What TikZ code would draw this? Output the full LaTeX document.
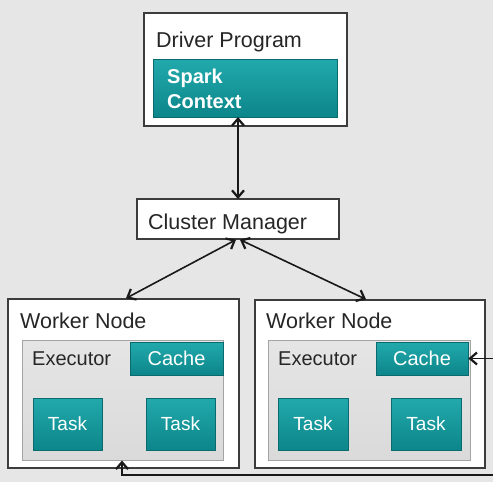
\documentclass[tikz,border=0pt]{standalone}
\usepackage{fontspec}
\setmainfont{Liberation Sans}
\usetikzlibrary{fit,arrows.meta}
\definecolor{bgcol}{HTML}{E6E6E6}
\definecolor{framecol}{HTML}{3C3C3C}
\definecolor{tealtop}{HTML}{22A9AC}
\definecolor{tealbot}{HTML}{0C868A}
\definecolor{execfill}{HTML}{DADADA}
\definecolor{execline}{HTML}{A4A4A4}
\tikzset{
  whitebox/.style={draw=framecol, line width=1.4pt, fill=white, inner sep=0pt},
  execbox/.style={draw=execline, line width=1pt, top color=execfill!70!white, bottom color=execfill, inner sep=0pt},
  tealbox/.style={draw=tealbot!80!black, line width=0.6pt, top color=tealtop, bottom color=tealbot, inner sep=0pt},
  label/.style={anchor=base west, inner sep=0pt, text=black!85, font=\fontsize{21.5}{24}\selectfont},
  smalllabel/.style={anchor=base west, inner sep=0pt, text=black!85, font=\fontsize{20}{22}\selectfont},
  tealtext/.style={inner sep=0pt, text=white, font=\fontsize{20}{22}\selectfont},
  boldtext/.style={anchor=base west, inner sep=0pt, text=white, font=\fontsize{20}{22}\selectfont\bfseries},
  link/.style={draw=black!90, line width=1.6pt,
    {Straight Barb[length=7pt,width=12pt,line width=2.2pt]}-{Straight Barb[length=7pt,width=12pt,line width=2.2pt]}},
  onelink/.style={draw=black!90, line width=1.6pt, -{Straight Barb[length=7pt,width=12pt,line width=2.2pt]}}
}
\begin{document}
\begin{tikzpicture}[x=1pt,y=-1pt]
  \fill[bgcol] (0,0) rectangle (493,482);
  \useasboundingbox (0,0) rectangle (493,482);
  \clip (0,0) rectangle (493,482);

  % driver program
  \node[whitebox, fit={(144,13) (347,126)}] (driver) {};
  \node[label] (drivertxt) at (156,47) {Driver Program};
  \node[tealbox, fit={(153,59) (337,117)}] (spark) {};
  \node[boldtext] (sparktxt1) at (167,83) {Spark};
  \node[boldtext] (sparktxt2) at (167,108) {Context};

  % cluster manager
  \node[whitebox, fit={(137,199) (339,239)}] (cm) {};
  \node[label] (cmtxt) at (148,229) {Cluster Manager};

  % left worker
  \node[whitebox, fit={(8,299) (239,468)}] (lw) {};
  \node[label] (lwtxt) at (20,328) {Worker Node};
  \node[execbox, fit={(22,340) (223,460)}] (lexec) {};
  \node[smalllabel] (lexectxt) at (32,365) {Executor};
  \node[tealbox, fit={(130,342) (223,375)}] (lcache) {};
  \node[tealtext] at (lcache.center) {Cache};
  \node[tealbox, fit={(33,398) (102,450)}] (ltask1) {};
  \node[tealtext, font=\fontsize{19}{21}\selectfont] at (ltask1.center) {Task};
  \node[tealbox, fit={(146,398) (215,450)}] (ltask2) {};
  \node[tealtext, font=\fontsize{19}{21}\selectfont] at (ltask2.center) {Task};

  % right worker
  \node[whitebox, fit={(255,300) (485,468)}] (rw) {};
  \node[label] (rwtxt) at (266,328) {Worker Node};
  \node[execbox, fit={(268,340) (470,460)}] (rexec) {};
  \node[smalllabel] (rexectxt) at (278,365) {Executor};
  \node[tealbox, fit={(376,342) (468,375)}] (rcache) {};
  \node[tealtext] at (rcache.center) {Cache};
  \node[tealbox, fit={(278,398) (348,450)}] (rtask1) {};
  \node[tealtext, font=\fontsize{19}{21}\selectfont] at (rtask1.center) {Task};
  \node[tealbox, fit={(391,398) (461,450)}] (rtask2) {};
  \node[tealtext, font=\fontsize{19}{21}\selectfont] at (rtask2.center) {Task};

  % connectors
  \coordinate (cmtop) at (238,199);
  \coordinate (sparkbot) at (238,117);
  \draw[link] (sparkbot) -- (cmtop);
  \draw[link] (cm.south -| 236,0) -- (lw.north -| 126,0);
  \draw[link] (cm.south -| 240,0) -- (rw.north -| 366,0);
  \coordinate (edge) at (500,475);
  \draw[onelink] (edge |- rcache.east) -- (rcache.east);
  \draw[onelink] (edge) -| (lexec.south -| 122,0);
  \draw[line width=1.6pt, black!90] (edge) -- (edge |- rcache.east);
\end{tikzpicture}
\end{document}
